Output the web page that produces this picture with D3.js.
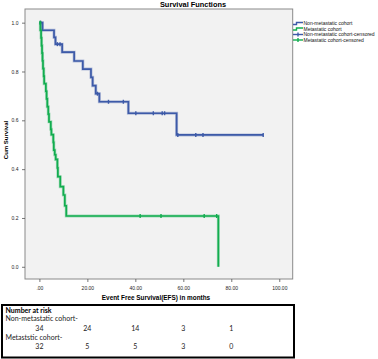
<!DOCTYPE html>
<html>
<head>
<meta charset="utf-8">
<script src="https://cdn.jsdelivr.net/npm/d3@7"></script>
<style>
  html, body { margin: 0; padding: 0; background: #fff; }
  svg { display: block; }
</style>
</head>
<body>
<svg id="chart" width="378" height="359"></svg>
<script>
// ---------------- DATA ----------------
const xTicks = [0, 20, 40, 60, 80, 100];
const yTicks = [0, 0.2, 0.4, 0.6, 0.8, 1.0];

// Non-metastatic cohort: KM steps [time, survival after event]
const nonMetSteps = [
  [0, 1.0], [1.3, 0.969], [6.1, 0.940], [6.7, 0.912], [9.5, 0.879], [14.5, 0.843],
  [18.1, 0.810], [21.5, 0.776], [22.2, 0.742], [23.5, 0.709], [25.0, 0.676],
  [37.1, 0.629], [57.2, 0.540], [93.3, 0.540]
];
const nonMetCensored = [
  [0.5, 1.0], [7.5, 0.912], [8.6, 0.912], [24.2, 0.709], [28.8, 0.676], [35.0, 0.676],
  [40.2, 0.629], [47.5, 0.629], [51.2, 0.629], [52.2, 0.629], [57.7, 0.540],
  [65.2, 0.540], [68.2, 0.540], [93.3, 0.540]
];

// Metastatic cohort
const metSteps = [
  [0, 1.0], [0.4, 0.969], [0.7, 0.938], [0.9, 0.906], [1.1, 0.875], [1.3, 0.844],
  [1.5, 0.812], [1.8, 0.781], [2.0, 0.750], [2.7, 0.719], [3.0, 0.688], [3.3, 0.656],
  [3.7, 0.625], [4.0, 0.594], [4.75, 0.563], [5.0, 0.541], [5.8, 0.510], [6.0, 0.478],
  [6.4, 0.459], [6.8, 0.440], [7.5, 0.405], [7.7, 0.369], [8.7, 0.328], [10.0, 0.294],
  [10.6, 0.250], [11.2, 0.208], [74.6, 0.0]
];
const metCensored = [
  [0.3, 1.0], [42.0, 0.208], [50.7, 0.208], [68.7, 0.208], [73.9, 0.208]
];

const legendLabels = [
  "Non-metastatic cohort", "Metastatic cohort",
  "Non-metastatic cohort-censored", "Metastatic cohort-censored"
];

const riskTimes = [0, 20, 40, 60, 80];
const nonMetRisk = [34, 24, 14, 3, 1];
const metRisk = [32, 5, 5, 3, 0];
const riskRowLabels = ["Non-metastatic cohort-", "Metaststic cohort-"];

// ---------------- DRAW ----------------
const BLUE = "#3d5aa8";
const GREEN = "#12ad4f";
const svg = d3.select("#chart");

const plot = { left: 25, right: 292.7, top: 9, bottom: 279 };
const x = d3.scaleLinear().domain([-6, 105.6]).range([plot.left, plot.right]);
const y = d3.scaleLinear().domain([-0.05, 1.056]).range([plot.bottom, plot.top]);

// title
svg.append("text")
  .attr("x", 193).attr("y", 6.5)
  .attr("text-anchor", "middle")
  .attr("font-family", "Liberation Sans, Arial, sans-serif")
  .attr("font-weight", "bold").attr("font-size", 7.4)
  .text("Survival Functions");

// plot background
svg.append("rect")
  .attr("x", plot.left).attr("y", plot.top)
  .attr("width", plot.right - plot.left).attr("height", plot.bottom - plot.top)
  .attr("fill", "#f2f2f2").attr("stroke", "#8a8a8a").attr("stroke-width", 1);

// axes
const xAxis = d3.axisBottom(x).tickValues(xTicks).tickSize(3).tickSizeOuter(0)
  .tickFormat(d => d === 0 ? ".00" : d.toFixed(2));
const gx = svg.append("g").attr("transform", `translate(0,${plot.bottom})`).call(xAxis);
const yAxis = d3.axisLeft(y).tickValues(yTicks).tickSize(3).tickSizeOuter(0)
  .tickFormat(d => d.toFixed(1));
const gy = svg.append("g").attr("transform", `translate(${plot.left},0)`).call(yAxis);
[gx, gy].forEach(g => {
  g.select(".domain").remove();
  g.selectAll("line").attr("stroke", "#555").attr("stroke-width", 0.8);
  g.selectAll("text").attr("font-family", "Liberation Sans, Arial, sans-serif")
    .attr("font-size", 5).attr("fill", "#222");
});
gx.selectAll("text").attr("dy", "0.9em");
gy.selectAll("text").attr("dx", "-0.1em");

// axis titles
svg.append("text")
  .attr("x", 156).attr("y", 299.5)
  .attr("text-anchor", "middle")
  .attr("font-family", "Liberation Sans, Arial, sans-serif")
  .attr("font-weight", "bold").attr("font-size", 6.4)
  .text("Event Free Survival(EFS) in months");
svg.append("text")
  .attr("transform", `translate(8,${(plot.top + plot.bottom) / 2 - 4}) rotate(-90)`)
  .attr("text-anchor", "middle")
  .attr("font-family", "Liberation Sans, Arial, sans-serif")
  .attr("font-weight", "bold").attr("font-size", 6)
  .text("Cum Survival");

// curves
const line = d3.line().x(d => x(d[0])).y(d => y(d[1])).curve(d3.curveStepAfter);
function drawCurve(steps, censored, color) {
  svg.append("path").attr("d", line(steps)).attr("fill", "none")
    .attr("stroke", color).attr("stroke-opacity", 0.35).attr("stroke-width", 3);
  svg.append("path").attr("d", line(steps)).attr("fill", "none")
    .attr("stroke", color).attr("stroke-width", 1.7);
  svg.append("g").selectAll("line").data(censored).join("line")
    .attr("x1", d => x(d[0])).attr("x2", d => x(d[0]))
    .attr("y1", d => y(d[1]) - 2).attr("y2", d => y(d[1]) + 2)
    .attr("stroke", color).attr("stroke-width", 1.4);
}
drawCurve(nonMetSteps, nonMetCensored, BLUE);
drawCurve(metSteps, metCensored, GREEN);

// legend
const legY0 = 23.5, legDy = 5.5, legX = 293;
const legColors = [BLUE, GREEN, BLUE, GREEN];
legendLabels.forEach((lab, i) => {
  const yy = legY0 + i * legDy;
  const c = legColors[i];
  if (i < 2) {
    svg.append("path")
      .attr("d", `M${legX},${yy + 1} H${legX + 3.5} V${yy - 1} H${legX + 10}`)
      .attr("fill", "none").attr("stroke", c).attr("stroke-width", 1.4);
  } else {
    svg.append("line").attr("x1", legX).attr("x2", legX + 10).attr("y1", yy).attr("y2", yy)
      .attr("stroke", c).attr("stroke-width", 1.4);
    svg.append("line").attr("x1", legX + 5).attr("x2", legX + 5).attr("y1", yy - 2).attr("y2", yy + 2)
      .attr("stroke", c).attr("stroke-width", 1.4);
  }
  svg.append("text").attr("x", legX + 10.5).attr("y", yy + 1.7)
    .attr("font-family", "Liberation Sans, Arial, sans-serif").attr("font-size", 5)
    .attr("fill", "#111").text(lab);
});

// number at risk table
svg.append("rect").attr("x", 2).attr("y", 305).attr("width", 292).attr("height", 52.5)
  .attr("fill", "#fff").attr("stroke", "#000").attr("stroke-width", 2);
const tf = "Lato, Carlito, sans-serif";
svg.append("text").attr("x", 5.5).attr("y", 312.5).attr("font-family", tf)
  .attr("font-weight", "bold").attr("font-size", 7).text("Number at risk");
[[nonMetRisk, 321.3, 330.7], [metRisk, 339.7, 349]].forEach(([vals, ly, ny], i) => {
  svg.append("text").attr("x", 5.5).attr("y", ly).attr("font-family", tf)
    .attr("font-size", 7).attr("fill", "#222").text(riskRowLabels[i]);
  svg.append("g").selectAll("text").data(vals).join("text")
    .attr("x", (d, j) => x(riskTimes[j])).attr("y", ny)
    .attr("text-anchor", "middle").attr("font-family", tf)
    .attr("font-size", 7).attr("fill", "#222").text(d => d);
});
</script>
</body>
</html>
